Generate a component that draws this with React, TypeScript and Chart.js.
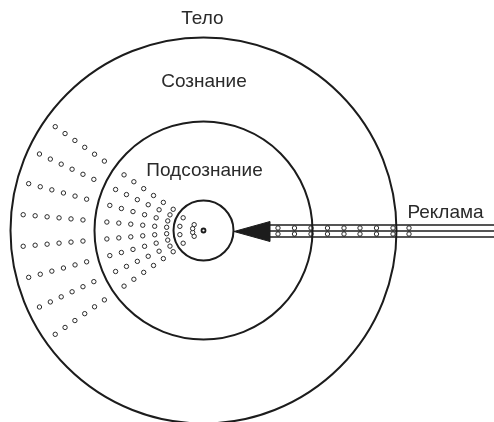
import React, { useEffect, useRef } from "react";
import { Chart, registerables } from "chart.js";
Chart.register(...registerables);

// Diagram data
const centre = { x: 203.5, y: 230.5 };
const circleRadii = [193, 109, 30];
const outerRayAngles = [-35, -25, -15, -5, 5, 15, 25, 35];
const coreRayAngles = [-32, -10, 10, 32];
const outerRingRadii = [121, 133, 145, 157, 169, 181];
const middleRingRadii = [37, 49, 61, 73, 85, 97];
const coreRadii = [11, 24];
const pipeLineY = [225, 231, 237];
const pipeStartX = 270;
const pipeEndX = 494;
const pipeDotX = [278, 294.5, 311, 327.5, 344, 360, 376.5, 393, 409];
const pipeDotY = [228, 234];
const arrowTip = { x: 234, y: 231.5 };
const arrowBase = { x: 270, top: 221.5, bottom: 241.5 };
const labelTexts = ["Тело", "Сознание", "Подсознание", "Реклама"];
const labelX = [202.5, 204, 204.5, 445.5];
const labelY = [19, 82, 170.5, 213];

const INK = "#1c1c1c";

function polar(r: number, deg: number) {
  const a = (deg * Math.PI) / 180;
  return { x: centre.x - r * Math.cos(a), y: centre.y - r * Math.sin(a) };
}

export default function App() {
  const ref = useRef<HTMLCanvasElement | null>(null);
  useEffect(() => {
    document.body.style.margin = "0";
    const canvas = ref.current!;
    const dots: { x: number; y: number }[] = [];
    for (const a of outerRayAngles) {
      for (const r of [...middleRingRadii, ...outerRingRadii]) dots.push(polar(r, a));
    }
    for (const a of coreRayAngles) {
      for (const r of coreRadii) dots.push(polar(r, a));
    }
    const pipeDots: { x: number; y: number }[] = [];
    for (const y of pipeDotY) for (const x of pipeDotX) pipeDots.push({ x, y });

    const labelPlugin = {
      id: "labels",
      afterDraw(chart: any) {
        const ctx = chart.ctx;
        const xs = chart.scales.x;
        const ys = chart.scales.y;
        ctx.save();
        ctx.fillStyle = "#2a2a2a";
        ctx.font = '19px "Liberation Sans", Arial, sans-serif';
        ctx.textAlign = "center";
        ctx.textBaseline = "middle";
        labelTexts.forEach((t, i) => {
          ctx.fillText(t, xs.getPixelForValue(labelX[i]), ys.getPixelForValue(labelY[i]));
        });
        ctx.restore();
      },
    };

    const lineDatasets = pipeLineY.map((y) => ({
      type: "line" as const,
      data: [
        { x: pipeStartX, y },
        { x: pipeEndX, y },
      ],
      borderColor: INK,
      borderWidth: 1.3,
      pointRadius: 0,
      fill: false,
    }));

    const chart = new Chart(canvas, {
      type: "scatter",
      data: {
        datasets: [
          ...lineDatasets,
          {
            type: "line",
            data: [
              { x: arrowBase.x, y: arrowBase.top },
              { x: arrowTip.x, y: arrowTip.y },
              { x: arrowBase.x, y: arrowBase.bottom },
              { x: arrowBase.x, y: arrowBase.top },
            ],
            borderColor: INK,
            borderWidth: 1,
            backgroundColor: INK,
            pointRadius: 0,
            fill: "shape",
            tension: 0,
          } as any,
          {
            data: circleRadii.map(() => ({ x: centre.x, y: centre.y })),
            pointRadius: circleRadii,
            pointBackgroundColor: "rgba(0,0,0,0)",
            pointBorderColor: INK,
            pointBorderWidth: 2,
            clip: false,
          },
          {
            data: [{ x: centre.x, y: centre.y }],
            pointRadius: 2,
            pointBackgroundColor: "#fff",
            pointBorderColor: INK,
            pointBorderWidth: 1.8,
          },
          {
            data: dots,
            pointRadius: 2.2,
            pointBackgroundColor: "#fff",
            pointBorderColor: "#2a2a2a",
            pointBorderWidth: 1,
          },
          {
            data: pipeDots,
            pointRadius: 2.2,
            pointBackgroundColor: "#fff",
            pointBorderColor: "#2a2a2a",
            pointBorderWidth: 1,
          },
        ],
      },
      options: {
        responsive: false,
        animation: false,
        events: [],
        layout: { padding: 0, autoPadding: false },
        plugins: { legend: { display: false }, tooltip: { enabled: false } },
        scales: {
          x: { type: "linear", min: 0, max: 494, display: false },
          y: { type: "linear", min: 0, max: 422, reverse: true, display: false },
        },
      },
      plugins: [labelPlugin],
    } as any);
    return () => chart.destroy();
  }, []);
  return <canvas ref={ref} width={494} height={422} style={{ display: "block" }} />;
}
